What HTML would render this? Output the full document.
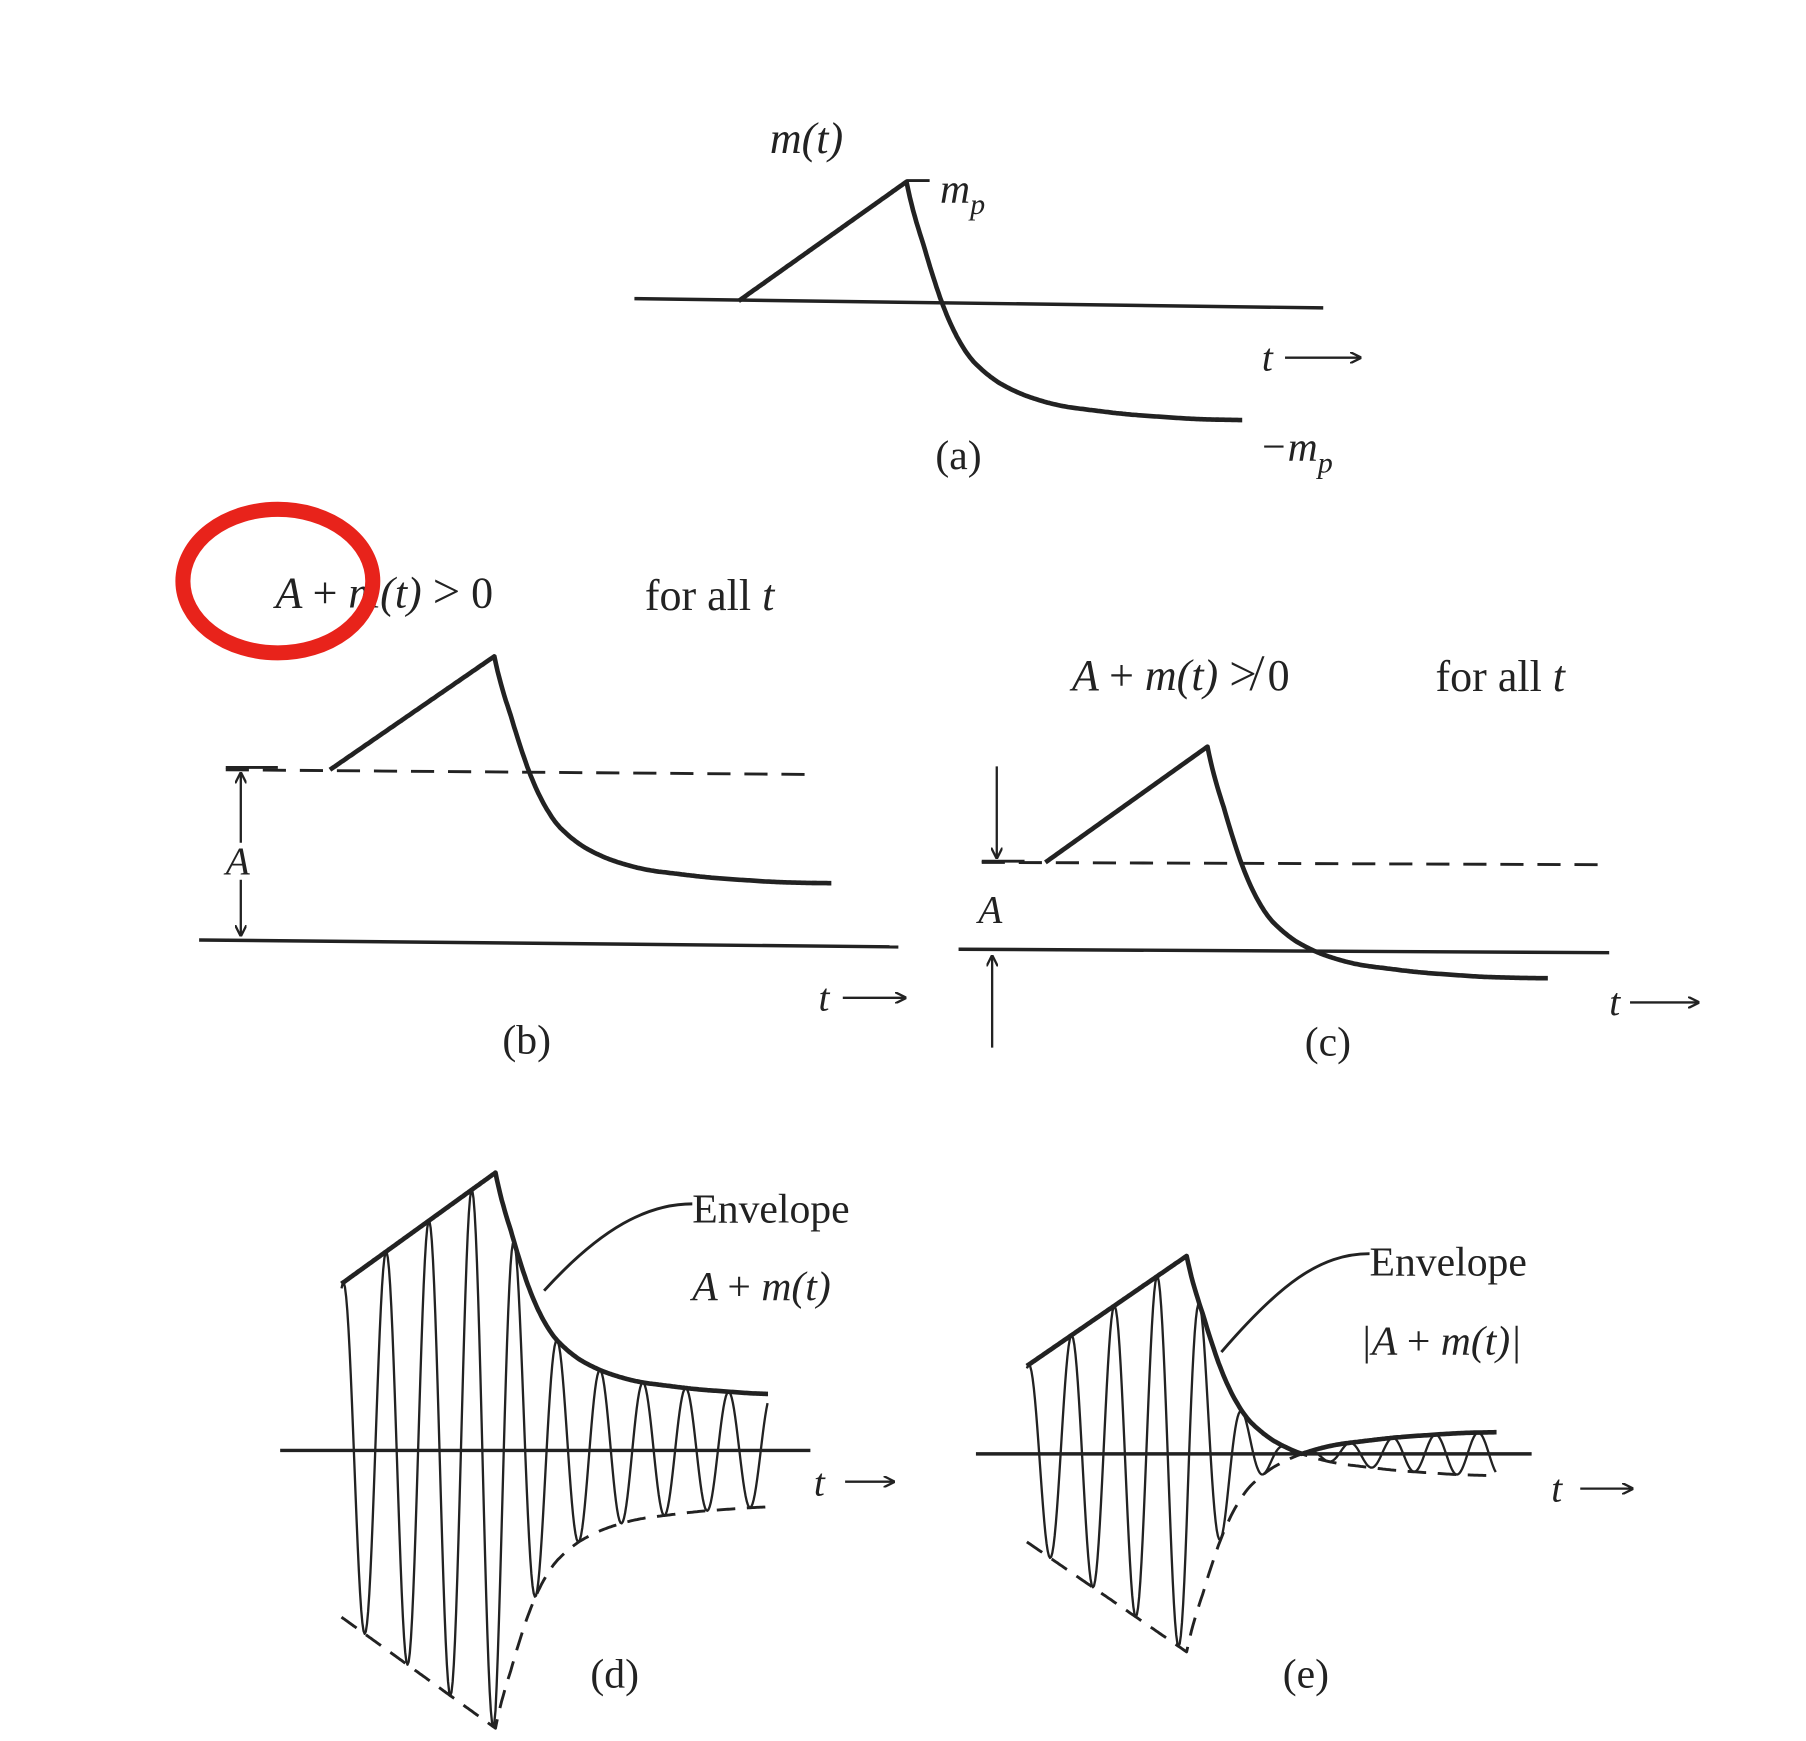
<!DOCTYPE html>
<html><head><meta charset="utf-8"><style>
html,body{margin:0;padding:0;background:#fff}
svg{display:block}
text{font-family:"Liberation Serif",serif;fill:#222}
.it{font-style:italic}
.up{font-style:normal}
</style></head><body>
<svg id="fig" width="1806" height="1741" viewBox="0 0 1560 1504" preserveAspectRatio="none" xmlns="http://www.w3.org/2000/svg">
<defs><marker id="ah" markerWidth="10" markerHeight="10" refX="9" refY="5" orient="auto" markerUnits="userSpaceOnUse"><path d="M0,0 L10,5 L0,10" fill="none" stroke="#222" stroke-width="2"/></marker></defs>
<g id="layer" stroke="#222" fill="none"></g>
<text class="it" x="665" y="132" font-size="38">m(t)</text>
<text class="it" x="812" y="175" font-size="36">m<tspan font-size="26" dy="10">p</tspan></text>
<text class="it" x="1088" y="398" font-size="36">−m<tspan font-size="26" dy="10">p</tspan></text>
<text x="808" y="405" font-size="36">(a)</text>
<text class="it" x="238" y="525" font-size="38">A <tspan class="up">+</tspan> m(t) <tspan class="up" font-size="42">&gt;</tspan> <tspan class="up">0</tspan></text>
<text x="557" y="527" font-size="38">for all <tspan class="it">t</tspan></text>
<text class="it" x="195" y="755" font-size="34">A</text>
<text x="434" y="910" font-size="36">(b)</text>
<text class="it" x="926" y="596" font-size="38">A <tspan class="up">+</tspan> m(t) <tspan class="up" font-size="42">≯</tspan> <tspan class="up">0</tspan></text>
<text x="1240" y="597" font-size="38">for all <tspan class="it">t</tspan></text>
<text class="it" x="845" y="797" font-size="34">A</text>
<text x="1127" y="912" font-size="36">(c)</text>
<text x="598" y="1056" font-size="36">Envelope</text>
<text class="it" x="598" y="1123" font-size="36">A <tspan class="up">+</tspan> m(t)</text>
<text x="510" y="1458" font-size="36">(d)</text>
<text x="1183" y="1102" font-size="36">Envelope</text>
<text class="it" x="1175" y="1170" font-size="36">|A <tspan class="up">+</tspan> m(t)|</text>
<text x="1108" y="1458" font-size="36">(e)</text>
<g>
<text class="it" x="1090" y="320" font-size="34">t</text>
<text class="it" x="707" y="873" font-size="34">t</text>
<text class="it" x="1390" y="877" font-size="34">t</text>
<text class="it" x="703" y="1292" font-size="34">t</text>
<text class="it" x="1340" y="1297" font-size="34">t</text>
</g>
<ellipse cx="240" cy="502" rx="82" ry="62" fill="none" stroke="#e8231b" stroke-width="13"/>
</svg>
<script>
const T = [0, 1, 1.1, 1.2, 1.3, 1.45, 1.65, 1.9, 2.3, 2.7, 3.0];
const M = [0, 1, 0.45, 0, -0.35, -0.6, -0.77, -0.88, -0.95, -0.99, -1.0];
const panelA = {b: 1.47, c: 0.75, d: 1.5, e: 0.8};
const tEnd = {a: 3.0, b: 3.05, c: 3.1, d: 2.77, e: 2.94};
const carrierPeriod = 37;

function m(t){ if(t<=T[0])return M[0]; for(let i=1;i<T.length;i++){ if(t<=T[i]){const f=(t-T[i-1])/(T[i]-T[i-1]);return M[i-1]+f*(M[i]-M[i-1]);}} return M[M.length-1]; }
function mSmooth(t){ if(t<=1) return m(t); let s=0,n=0; for(let k=-4;k<=4;k++){const tt=Math.max(1.0001,t+k*0.025); s+=m(tt); n++;} const w=Math.min(1,(t-1)/0.1); return w*(s/n)+(1-w)*m(t); }

const NS="http://www.w3.org/2000/svg", layer=document.getElementById('layer');
function path(d,name,w,dash){const p=document.createElementNS(NS,'path');p.setAttribute('d',d);p.setAttribute('stroke-width',w||3);if(dash)p.setAttribute('stroke-dasharray',dash);p.setAttribute('stroke-linejoin','round');


layer.appendChild(p);return p;}
function line(x1,y1,x2,y2,name,w,dash,arrow){const p=path(`M${x1},${y1} L${x2},${y2}`,name,w,dash);if(arrow)p.setAttribute('marker-end','url(#ah)');return p;}
function curve(x0,y0,sx,sy,A,te,sign){let d='';for(let t=0;t<=te+1e-9;t+=0.01){const v=A+mSmooth(t);const x=x0+t*sx,y=y0-sign(v)*sy;d+=(d?'L':'M')+x.toFixed(1)+','+y.toFixed(1);}return d;}
const id=v=>v;

line(548,258,1143,266,'axis-a',3);
path(curve(638,260,145,103,0,tEnd.a,id),'message-curve-a',4);
line(783,156,803,156,'mp-tick',2.5);
line(1110,309,1175,309,'t-arrow-a',2,null,true);

line(172,812,776,818,'axis-b',3);
line(195,665,695,669,'a-level-dashed-b',2.5,'20,12');
path(curve(285,665,142,98,0,tEnd.b,id),'envelope-curve-b',4);
line(195,663,240,663,'a-tick-b',2.5);
line(208,728,208,668,'a-arrow-up-b',2,null,true);
line(208,760,208,808,'a-arrow-down-b',2,null,true);
line(728,862,782,862,'t-arrow-b',2,null,true);

line(828,820,1390,823,'axis-c',3);
line(848,745,1390,747,'a-level-dashed-c',2.5,'20,12');
line(848,744,885,744,'a-tick-c',2.5);
path(curve(903,745,140,100,0,tEnd.c,id),'envelope-curve-c',4);
line(861,662,861,741,'a-arrow-down-c',2,null,true);
line(857,905,857,826,'a-arrow-up-c',2,null,true);
line(1408,866,1467,866,'t-arrow-c',2,null,true);

function modulated(x0,y0,sx,sy,A,te,sfx){
  const xe=x0+te*sx; let d='';
  for(let x=x0;x<=xe;x+=1){const t=(x-x0)/sx;const v=(A+mSmooth(t))*sy;const y=y0-v*Math.sin(2*Math.PI*(x-x0+carrierPeriod*0.02)/carrierPeriod+Math.PI/2.6);d+=(d?'L':'M')+x+','+y.toFixed(1);}
  path(d,'carrier-'+sfx,2);
  path(curve(x0,y0,sx,sy,A,te,v=>Math.abs(v)),'upper-envelope-'+sfx,4);
  path(curve(x0,y0,sx,sy,A,te,v=>-Math.abs(v)),'lower-envelope-'+sfx,2.5,'16,10');
}
line(242,1253,700,1253,'axis-d',3);
modulated(295,1253,133,96,panelA.d,tEnd.d,'d');
path('M470,1115 C520,1060 560,1040 598,1040','envelope-leader-d',2.5);
line(730,1280,772,1280,'t-arrow-d',2,null,true);

line(843,1256,1323,1256,'axis-e',3);
modulated(887,1256,138,95,panelA.e,tEnd.e,'e');
path('M1055,1168 C1105,1110 1140,1083 1183,1083','envelope-leader-e',2.5);
line(1365,1286,1410,1286,'t-arrow-e',2,null,true);
</script>
</body></html>
